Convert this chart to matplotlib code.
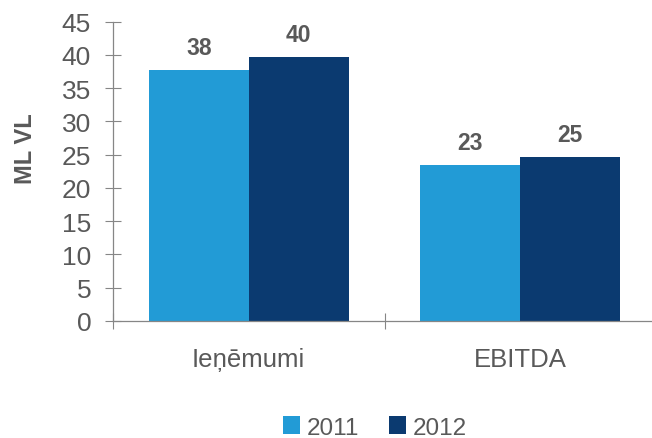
import matplotlib
matplotlib.use("Agg")
import matplotlib.pyplot as plt
import numpy as np

# ----------------------------
# Data
# ----------------------------
categories = ["Ieņēmumi", "EBITDA"]
years = ["2011", "2012"]
values_2011 = [37.7, 23.4]
values_2012 = [39.7, 24.6]
labels_2011 = ["38", "23"]
labels_2012 = ["40", "25"]

colors = ["#229BD6", "#0B3A70"]
gray = "#595959"
axis_gray = "#868686"

plt.rcParams["font.family"] = ["Liberation Sans", "DejaVu Sans"]

# ----------------------------
# Plot
# ----------------------------
fig = plt.figure(figsize=(6.52, 4.39), dpi=100)
ax = fig.add_axes([113 / 652, 117 / 439, 543 / 652, 299.3 / 439])

x = np.arange(len(categories))
w = 0.368

b1 = ax.bar(x - w / 2, values_2011, w, color=colors[0], label=years[0])
b2 = ax.bar(x + w / 2, values_2012, w, color=colors[1], label=years[1])

# value labels above bars
for bars, labs in [(b1, labels_2011), (b2, labels_2012)]:
    for bar, lab in zip(bars, labs):
        ax.text(bar.get_x() + bar.get_width() / 2, bar.get_height() + 2.4, lab,
                ha="center", va="baseline", fontsize=16.5, fontweight="bold", color=gray)

ax.set_xlim(-0.5, 1.5)
ax.set_ylim(0, 45)
ax.set_yticks(range(0, 46, 5))

ax.set_xticks([-0.5, 0.5, 1.5])
ax.set_xticklabels([])
ax.set_xticks(x, minor=True)
ax.set_xticklabels(categories, minor=True)

ax.tick_params(axis="y", direction="inout", length=11.5, width=0.8, color=axis_gray,
               labelsize=19, labelcolor=gray, pad=10)
ax.tick_params(axis="x", which="major", direction="inout", length=11.5, width=0.8, color=axis_gray)
ax.tick_params(axis="x", which="minor", length=0, labelsize=18.5, labelcolor=gray, pad=19)

for s in ["top", "right"]:
    ax.spines[s].set_visible(False)
for s in ["left", "bottom"]:
    ax.spines[s].set_color(axis_gray)
    ax.spines[s].set_linewidth(0.9)

fig.text(25.5 / 652, 1 - 149 / 439, "ML VL", rotation=90, ha="center", va="center",
         fontsize=17, fontweight="bold", color=gray)

fig.legend(handles=[b1, b2], labels=years, loc="center", bbox_to_anchor=(375 / 652, 1 - 428.5 / 439),
           ncol=2, frameon=False, fontsize=17.5, labelcolor=gray, handlelength=0.7, handleheight=0.7,
           handletextpad=0.3, columnspacing=1.2, borderpad=0.1)

fig.savefig("out.png", dpi=100)
